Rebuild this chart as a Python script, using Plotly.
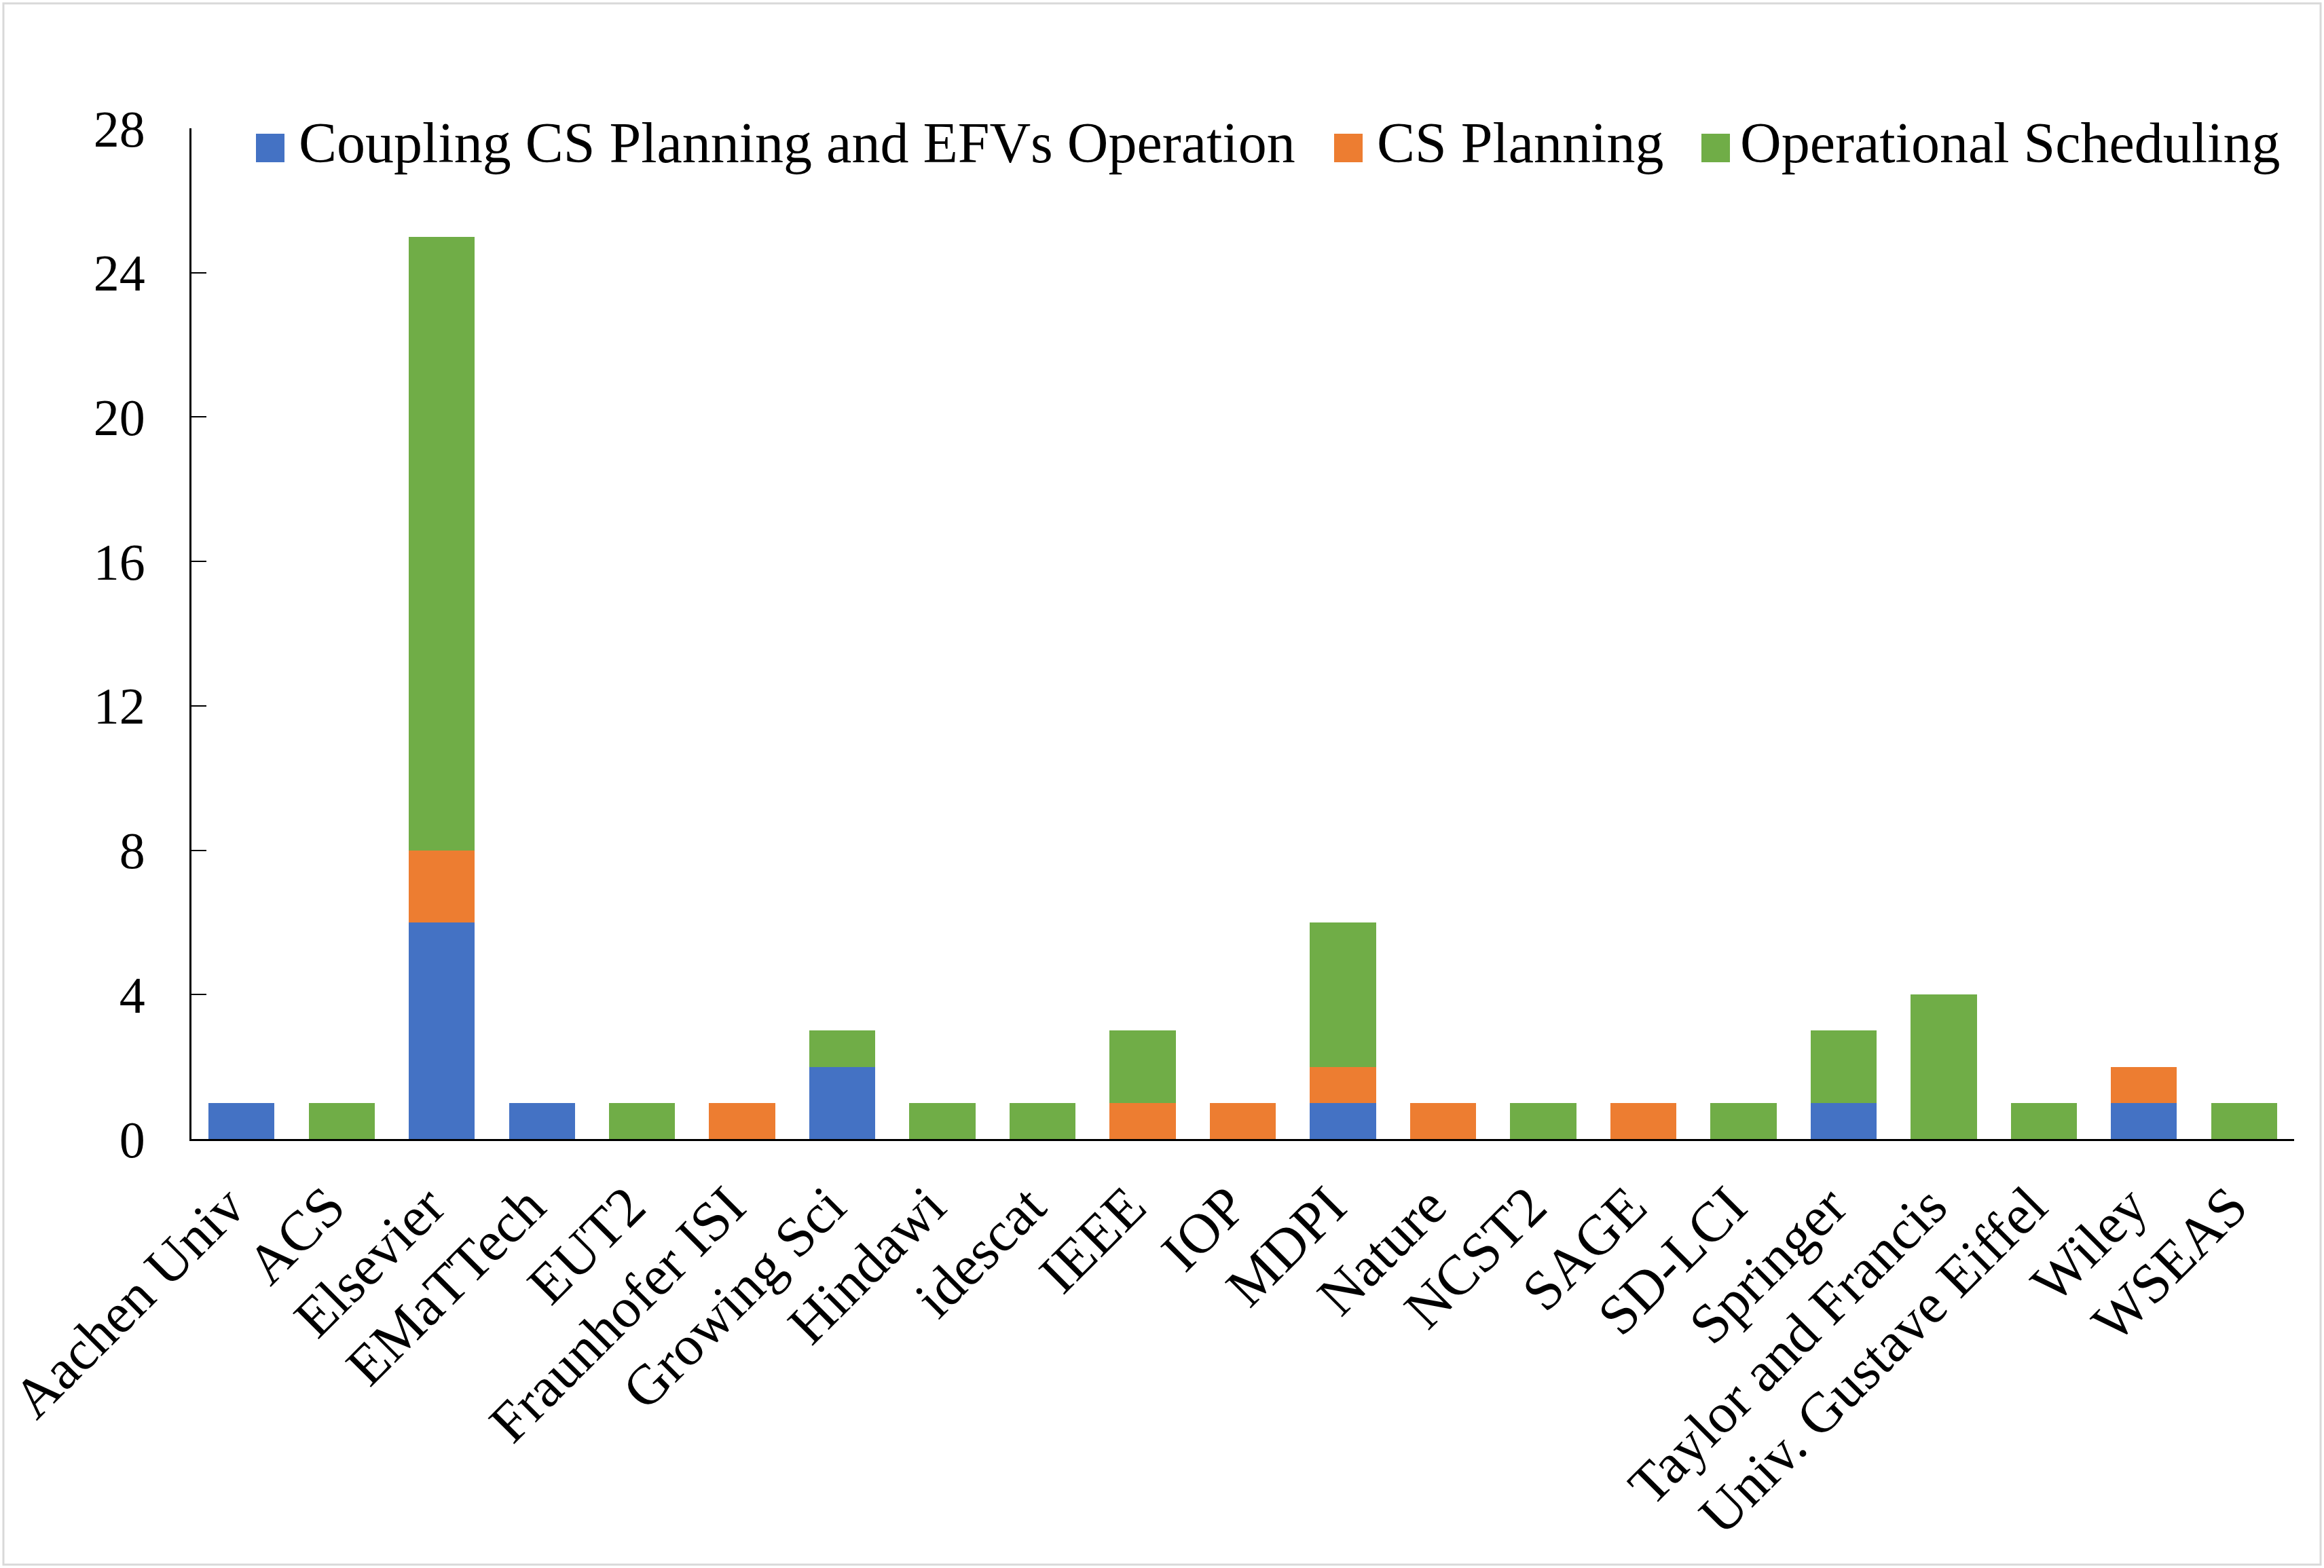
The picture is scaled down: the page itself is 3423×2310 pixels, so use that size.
import plotly.graph_objects as go

categories = ["Aachen Univ", "ACS", "Elsevier", "EMaTTech", "EUT2", "Fraunhofer ISI",
              "Growing Sci", "Hindawi", "idescat", "IEEE", "IOP", "MDPI", "Nature",
              "NCST2", "SAGE", "SD-LCI", "Springer", "Taylor and Francis",
              "Univ. Gustave Eiffel", "Wiley", "WSEAS"]
coupling = [1, 0, 6, 1, 0, 0, 2, 0, 0, 0, 0, 1, 0, 0, 0, 0, 1, 0, 0, 1, 0]
cs_planning = [0, 0, 2, 0, 0, 1, 0, 0, 0, 1, 1, 1, 1, 0, 1, 0, 0, 0, 0, 1, 0]
operational = [0, 1, 17, 0, 1, 0, 1, 1, 1, 2, 0, 4, 0, 1, 0, 1, 2, 4, 1, 0, 1]
series_names = ["Coupling CS Planning and EFVs Operation", "CS Planning", "Operational Scheduling"]
colors = ["#4472C4", "#ED7D31", "#70AD47"]
y_ticks = [0, 4, 8, 12, 16, 20, 24, 28]

FONT = "Liberation Serif"
W, H = 3423, 2310
ML, MR, MT, MB = 282, 44, 189, 632
pw = W - ML - MR
ph = H - MT - MB


def px_x(p):
    return (p - ML) / pw


def px_y(p):
    return 1 - (p - MT) / ph


fig = go.Figure()
for name, vals, col in zip(series_names, [coupling, cs_planning, operational], colors):
    fig.add_trace(go.Bar(x=categories, y=vals, name=name, showlegend=False,
                         marker=dict(color=col, line=dict(width=0))))

# outer light-gray frame
fig.add_shape(type="rect", xref="paper", yref="paper",
              x0=px_x(5), x1=px_x(W - 5), y0=px_y(H - 5), y1=px_y(5),
              line=dict(color="#d9d9d9", width=3), fillcolor="rgba(0,0,0,0)", layer="below")

# legend (swatches + labels)
swatch_left = [377, 1965, 2506]
text_left = [439, 2027, 2562]
sw_size = 42
sw_top, sw_bottom = 197, 239
text_mid = 211
for name, col, sx, tx in zip(series_names, colors, swatch_left, text_left):
    fig.add_shape(type="rect", xref="paper", yref="paper",
                  x0=px_x(sx), x1=px_x(sx + sw_size), y0=px_y(sw_bottom), y1=px_y(sw_top),
                  line=dict(width=0), fillcolor=col)
    fig.add_annotation(xref="paper", yref="paper", x=px_x(tx), y=px_y(text_mid),
                       xanchor="left", yanchor="middle", text=name, showarrow=False,
                       borderpad=0, font=dict(family=FONT, size=84, color="black"))

fig.update_layout(
    width=W, height=H,
    barmode="stack", bargap=0.34,
    paper_bgcolor="white", plot_bgcolor="white",
    margin=dict(l=ML, r=MR, t=MT, b=MB, autoexpand=False),
    font=dict(family=FONT, color="black", size=80),
    showlegend=False,
    xaxis=dict(showline=True, linecolor="black", linewidth=3, ticks="",
               tickangle=-45, tickfont=dict(family=FONT, size=83, color="black"),
               showgrid=False, zeroline=False, ticklabelstandoff=14, ticklabelshift=-20),
    yaxis=dict(range=[0, 28], tickvals=y_ticks, ticks="inside", ticklen=22, tickwidth=2,
               tickcolor="black", showline=True, linecolor="black", linewidth=3,
               showgrid=False, zeroline=False,
               tickfont=dict(family=FONT, size=76, color="black"), ticklabelstandoff=50),
)

fig.write_html("out.html", config={"displayModeBar": False},
               post_script="document.body.style.margin='0';")
